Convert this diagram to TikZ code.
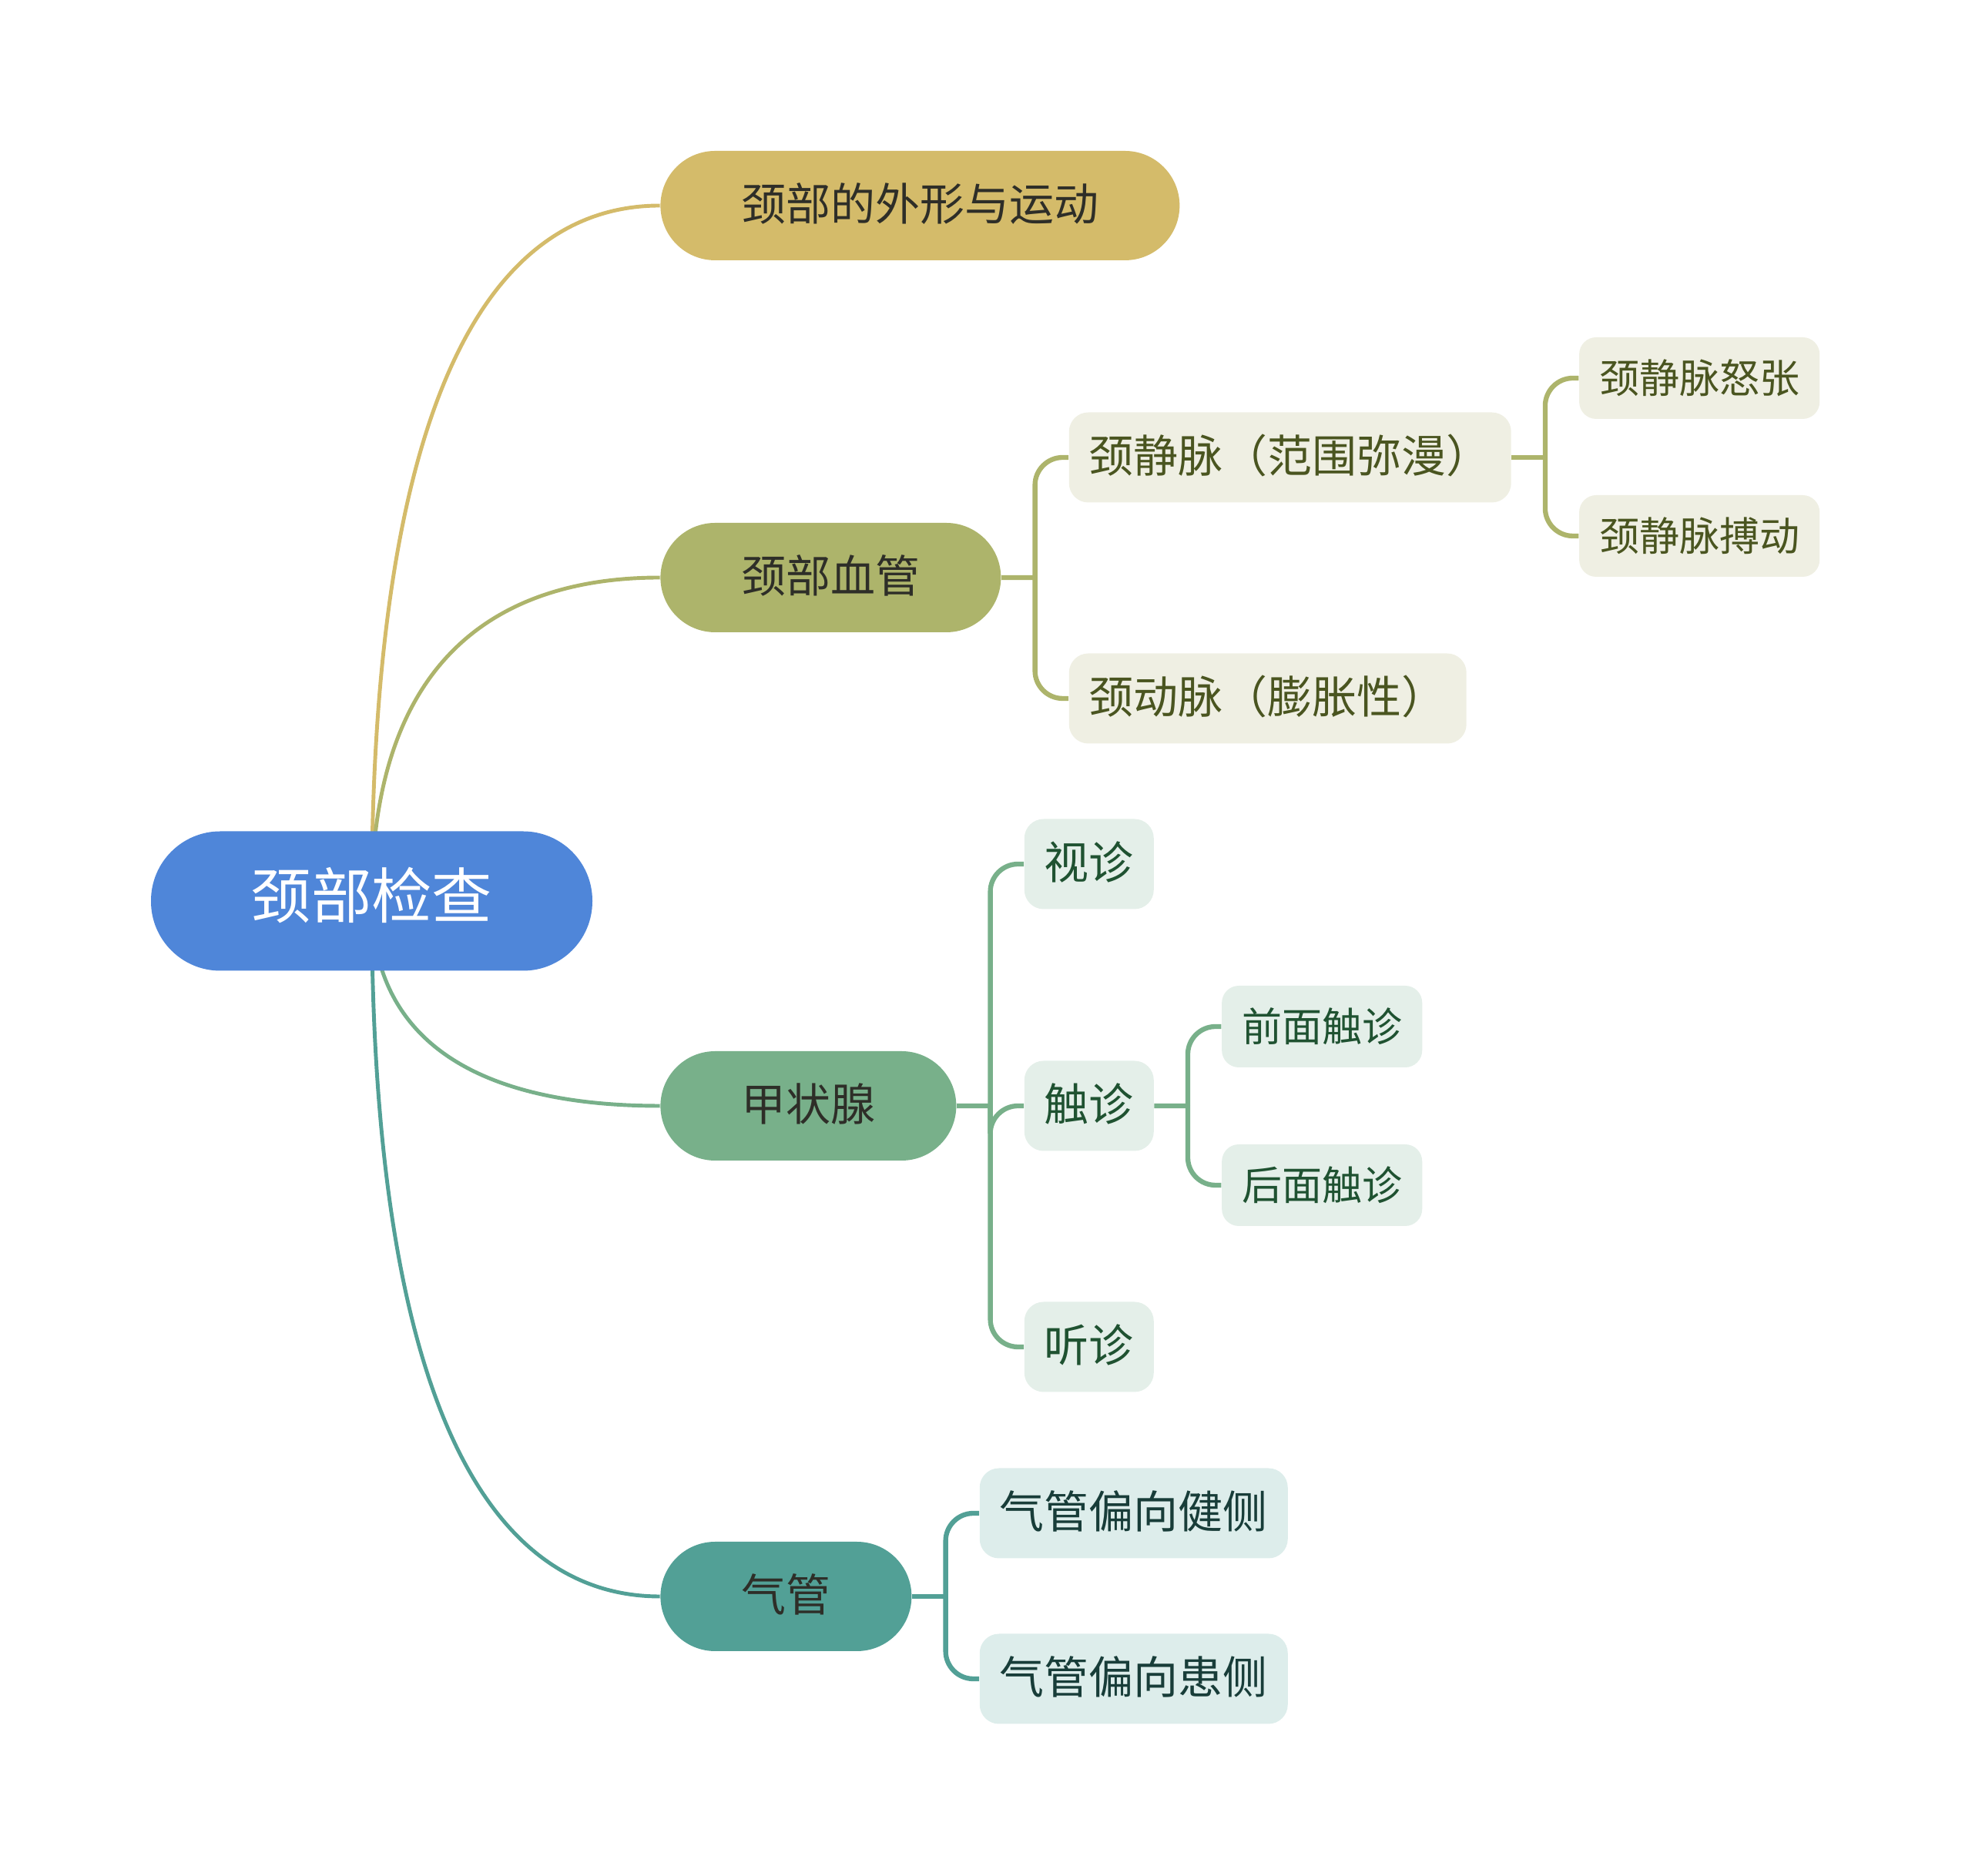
\documentclass[tikz,border=0pt]{standalone}
\usepackage{fontspec}
\newfontfamily\cjk{Noto Sans CJK SC}
\usepackage{xcolor}
\usepackage{tikz}
\usetikzlibrary{positioning}
\usetikzlibrary{calc}
\usetikzlibrary{backgrounds}

\definecolor{rootblue}{HTML}{4F86D9}
\definecolor{shapecol}{HTML}{D4BB6A}
\definecolor{vesselcol}{HTML}{ADB46B}
\definecolor{thyroidcol}{HTML}{78B08A}
\definecolor{tracheacol}{HTML}{52A096}
\definecolor{vesselpale}{HTML}{EFEFE3}
\definecolor{thyroidpale}{HTML}{E4EFE9}
\definecolor{tracheapale}{HTML}{DDEDEB}
\definecolor{vesselink}{HTML}{4A5520}
\definecolor{thyroidink}{HTML}{1F5231}
\definecolor{tracheaink}{HTML}{183D39}
\definecolor{topicink}{HTML}{2E2E28}

\begin{document}
\begin{tikzpicture}[
		node distance=0.87cm,
		box/.style={text height=1.1em, text depth=0em, anchor=center},
		rootnode/.style={box, text height=1.3em, fill=rootblue, text=white, rounded corners=0.9cm,
			minimum height=1.81cm, minimum width=5.73cm,
			font=\cjk\fontsize{22.3pt}{26pt}\selectfont},
		topic/.style={box, text=topicink, rounded corners=0.71cm,
			minimum height=1.42cm, inner xsep=1.05cm,
			font=\cjk\fontsize{16.5pt}{20pt}\selectfont},
		sub/.style={box, rounded corners=0.25cm, minimum height=1.17cm, inner xsep=0.26cm,
			font=\cjk\fontsize{16.5pt}{20pt}\selectfont},
		leaf/.style={box, rounded corners=0.22cm, minimum height=1.06cm, inner xsep=0.26cm,
			font=\cjk\fontsize{14.8pt}{18pt}\selectfont},
		vesselsub/.style={fill=vesselpale, text=vesselink},
		thyroidsub/.style={fill=thyroidpale, text=thyroidink},
		tracheasub/.style={fill=tracheapale, text=tracheaink},
		branch/.style={line width=1.4pt, to path={
			.. controls ($(\tikztostart)!.8!(\tikztostart|-\tikztotarget)$)
			and ($(\tikztotarget)!.5!(\tikztotarget-|\tikztostart)$) .. (\tikztotarget)}},
		fork/.style={line width=1.8pt, rounded corners=0.36cm}
	]
	\useasboundingbox (0,0) rectangle (25.6,24.36);

	\node[rootnode] (root) at (4.825,12.66) {颈部检查};

	\node[topic, fill=shapecol, right=of root, yshift=9.03cm] (shape) {颈部的外形与运动};
	\node[topic, fill=vesselcol, right=of root, yshift=4.2cm] (vessel) {颈部血管};
	\node[topic, fill=thyroidcol, right=of root, yshift=-2.66cm] (thyroid) {甲状腺};
	\node[topic, fill=tracheacol, right=of root, yshift=-9.03cm] (trachea) {气管};

	\node[sub, vesselsub, right=of vessel, yshift=1.56cm] (jugular) {颈静脉（范围弥漫）};
	\node[sub, vesselsub, right=of vessel, yshift=-1.57cm] (carotid) {颈动脉（膨胀性）};
	\node[leaf, vesselsub, right=of jugular, yshift=1.03cm] (distension) {颈静脉怒张};
	\node[leaf, vesselsub, right=of jugular, yshift=-1.02cm] (pulsation) {颈静脉搏动};

	\node[sub, thyroidsub, right=of thyroid, yshift=3.14cm] (inspect) {视诊};
	\node[sub, thyroidsub, right=of thyroid] (palpate) {触诊};
	\node[sub, thyroidsub, right=of thyroid, yshift=-3.13cm] (auscult) {听诊};
	\node[leaf, thyroidsub, right=of palpate, yshift=1.03cm] (front) {前面触诊};
	\node[leaf, thyroidsub, right=of palpate, yshift=-1.03cm] (back) {后面触诊};

	\node[sub, tracheasub, right=of trachea, yshift=1.08cm] (healthy) {气管偏向健侧};
	\node[sub, tracheasub, right=of trachea, yshift=-1.07cm] (affected) {气管偏向患侧};

	\begin{scope}[on background layer]
		\draw[branch, shapecol] (root.center) to (shape.west);
		\draw[branch, vesselcol] (root.center) to (vessel.west);
		\draw[branch, thyroidcol] (root.center) to (thyroid.west);
		\draw[branch, tracheacol] (root.center) to (trachea.west);

		\coordinate (vfork) at ($(vessel.east)!.5!(vessel.east-|jugular.west)$);
		\coordinate (jfork) at ($(jugular.east)!.5!(jugular.east-|distension.west)$);
		\coordinate (tfork) at ($(thyroid.east)!.5!(thyroid.east-|inspect.west)$);
		\coordinate (pfork) at ($(palpate.east)!.5!(palpate.east-|front.west)$);
		\coordinate (afork) at ($(trachea.east)!.5!(trachea.east-|healthy.west)$);

		\draw[fork, vesselcol] (vessel.east) -- (vfork);
		\foreach \c in {jugular, carotid}
			\draw[fork, vesselcol] (vfork) |- (\c.west);
		\draw[fork, vesselcol] (jugular.east) -- (jfork);
		\foreach \c in {distension, pulsation}
			\draw[fork, vesselcol] (jfork) |- (\c.west);

		\draw[fork, thyroidcol] (thyroid.east) -- (tfork);
		\foreach \c in {inspect, palpate, auscult}
			\draw[fork, thyroidcol] (tfork) |- (\c.west);
		\draw[fork, thyroidcol] (palpate.east) -- (pfork);
		\foreach \c in {front, back}
			\draw[fork, thyroidcol] (pfork) |- (\c.west);

		\draw[fork, tracheacol] (trachea.east) -- (afork);
		\foreach \c in {healthy, affected}
			\draw[fork, tracheacol] (afork) |- (\c.west);
	\end{scope}
\end{tikzpicture}
\end{document}
